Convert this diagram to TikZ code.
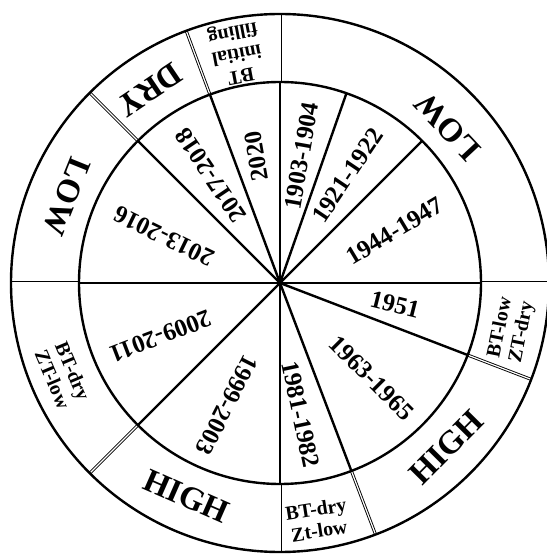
\documentclass[tikz,border=0pt]{standalone}
\usepackage{fontspec}
\setmainfont{Liberation Serif}
\usepackage{tikz}
\definecolor{Ink}{HTML}{000000}

\begin{document}
\begin{tikzpicture}[x=1bp,y=1bp,line width=2.4bp,Ink,
  yr/.style={font=\fontsize{25}{25}\selectfont\bfseries,inner sep=0pt},
  phase/.style={font=\fontsize{33}{33}\selectfont\bfseries,inner sep=0pt},
  note/.style={font=\fontsize{20}{22}\selectfont\bfseries,align=center,inner sep=0pt},
  divider/.style={double,line width=0.9bp,double distance=1.2bp}]
  \def\rin{201}
  \def\rout{269}
  \useasboundingbox (-280,-273) rectangle (267,283);
  \coordinate (O) at (0,0);
  \foreach \a in {0,45,70.7,90,110.4,135,180,225,270,290.8,339}
    \draw (O) -- (\a:\rin);
  \foreach \a in {0,90,110.4,135,180,225,270,290.8,339}
    \draw[divider] (\a:\rin) -- (\a:\rout);
  \draw (O) circle[radius=\rin];
  \draw (O) circle[radius=\rout];
  \foreach \n/\a/\r/\rot/\t in {
    y1/80.4/129/80/1903-1904,
    y2/57.9/127/56/1921-1922,
    y3/24.5/126/31/1944-1947,
    y4/-10.5/117/-14/1951,
    y5/-46/132/-45/1963-1965,
    y6/-81/133/-78/1981-1982,
    y7/246.5/133/243/1999-2003,
    y8/204/131/201/2009-2011,
    y9/158/125/154/2013-2016,
    y10/122.7/128/124/2017-2018,
    y11/100.5/129/100/2020} {
    \node[yr,rotate=\rot] (\n) at (\a:\r) {\t};
  }
  \foreach \n/\a/\r/\t in {
    p1/43/229/LOW,
    p2/-44.7/234/HIGH,
    p3/246.3/233/HIGH,
    p4/158/230/LOW,
    p5/124/233/DRY} {
    \node[phase,rotate=\a+90] (\n) at (\a:\r) {\t};
  }
  \foreach \n/\a/\r/\t in {
    c1/-11.5/236/BT-low\\ZT-dry,
    c2/-81/240/BT-dry\\Zt-low,
    c3/203/236/BT-dry\\ZT-low,
    c4/100.7/234/BT\\initial\\filling} {
    \node[note,rotate=\a+90] (\n) at (\a:\r) {\t};
  }
\end{tikzpicture}
\end{document}
